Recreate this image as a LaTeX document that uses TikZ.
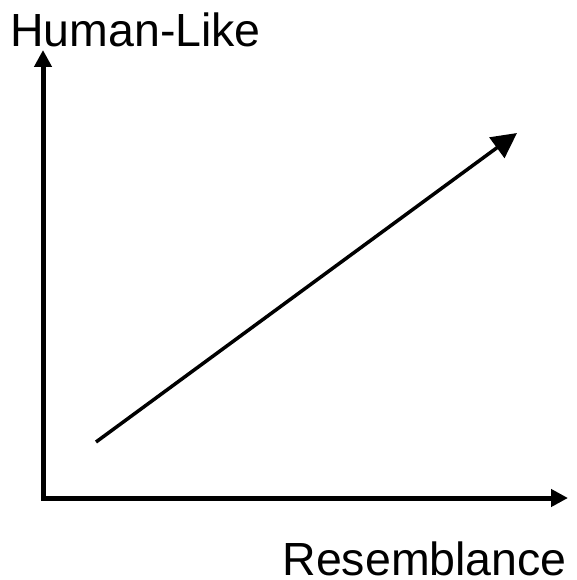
\documentclass[tikz,border=0pt]{standalone}
\usepackage{fontspec}
\setmainfont{Liberation Sans}
\usetikzlibrary{arrows.meta,positioning}

\begin{document}
\begin{tikzpicture}[x=1bp,y=-1bp,
  axes/.style={line width=5bp,line join=miter,
               {Triangle[length=17bp,width=17bp]}-{Triangle[length=17bp,width=17bp]}},
  trend/.style={line width=3.5bp,-{Triangle[length=25bp,width=25bp]}},
  lbl/.style={font=\fontsize{46.5bp}{50bp}\selectfont,inner sep=0pt}]
  \useasboundingbox (0,0) rectangle (577,580);
  % achsen
  \coordinate (ytop) at (43,50);
  \coordinate (orig) at (43,498);
  \coordinate (xend) at (568,498);
  \draw[axes] (ytop) -- (orig) -- (xend);
  % beschriftung
  \node[lbl,anchor=base west] (human) at (10,47) {Human-Like};
  \node[lbl,anchor=base east] (resem) at (567,575) {Resemblance};
  % trendpfeil
  \coordinate (tstart) at (96,442);
  \coordinate (tend) at (517,133);
  \draw[trend] (tstart) -- (tend);
\end{tikzpicture}
\end{document}
